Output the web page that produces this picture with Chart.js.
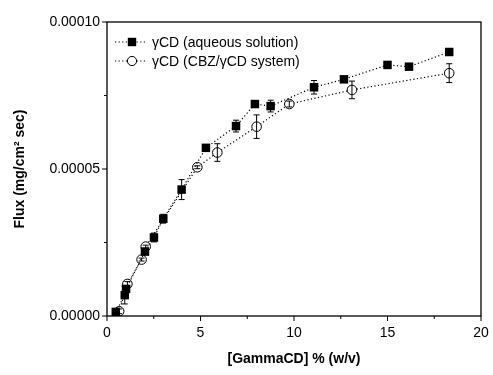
<!DOCTYPE html>
<html>
<head>
<meta charset="utf-8">
<script src="https://cdn.jsdelivr.net/npm/chart.js@4.4.0/dist/chart.umd.min.js"></script>
<style>
  html, body { margin: 0; padding: 0; background: #fff; }
  #wrap { width: 493px; height: 375px; }
</style>
</head>
<body>
<div id="wrap"><canvas id="fluxChart"></canvas></div>
<script>
// γCD (aqueous solution)
const aqConc = [0.47, 0.95, 1.02, 2.03, 2.51, 3.01, 3.99, 5.29, 6.9, 7.91, 8.75, 11.07, 12.67, 15.0, 16.15, 18.3];
const aqFlux = [0.0000014, 0.0000071, 0.0000092, 0.0000219, 0.0000267, 0.0000331, 0.0000430, 0.0000572, 0.0000646, 0.0000721, 0.0000714, 0.0000778, 0.0000805, 0.0000854, 0.0000848, 0.0000898];
const aqErr  = [0.0000005, 0.0000030, 0.0000010, 0.0000010, 0.0000015, 0.0000015, 0.0000034, 0.0000005, 0.0000020, 0.0000008, 0.0000020, 0.0000023, 0.0000010, 0.0000005, 0.0000005, 0.0000005];

// γCD (CBZ/γCD system)
const sysConc = [0.65, 1.09, 1.85, 2.07, 4.83, 5.9, 8.0, 9.75, 13.1, 18.3];
const sysFlux = [0.0000016, 0.0000109, 0.0000192, 0.0000236, 0.0000506, 0.0000556, 0.0000644, 0.0000721, 0.0000769, 0.0000826];
const sysErr  = [0.0000008, 0.0000008, 0.0000005, 0.0000005, 0.0000005, 0.0000030, 0.0000040, 0.0000010, 0.0000030, 0.0000032];

const xTicks = [0, 5, 10, 15, 20];
const yTicks = [0.00000, 0.00005, 0.00010];

const seriesLabels = ['γCD (aqueous solution)', 'γCD (CBZ/γCD system)'];

const FONT = 'Arial, "Liberation Sans", sans-serif';

function toPoints(xs, ys, es) {
    return xs.map((x, i) => ({ x: x, y: ys[i], err: es[i] }));
}

// error bars, frame, tick marks and legend
const extras = {
    id: 'extras',
    afterDatasetsDraw(chart) {
        const ctx = chart.ctx;
        const xs = chart.scales.x, ys = chart.scales.y;
        ctx.save();
        ctx.strokeStyle = '#000';
        ctx.lineWidth = 1;
        chart.data.datasets.forEach(ds => {
            ds.data.forEach(p => {
                if (!p.err) return;
                const px = xs.getPixelForValue(p.x);
                const top = ys.getPixelForValue(p.y + p.err);
                const bot = ys.getPixelForValue(p.y - p.err);
                ctx.beginPath();
                ctx.moveTo(px, top); ctx.lineTo(px, bot);
                ctx.moveTo(px - 3, top); ctx.lineTo(px + 3, top);
                ctx.moveTo(px - 3, bot); ctx.lineTo(px + 3, bot);
                ctx.stroke();
            });
        });
        ctx.restore();
    },
    afterDraw(chart) {
        const ctx = chart.ctx;
        const a = chart.chartArea;
        const xs = chart.scales.x, ys = chart.scales.y;
        ctx.save();
        ctx.strokeStyle = '#000';
        ctx.lineWidth = 1.3;
        ctx.strokeRect(a.left, a.top, a.right - a.left, a.bottom - a.top);

        // tick marks pointing outward, short ones for minor steps
        ctx.lineWidth = 1;
        ctx.beginPath();
        xs.ticks.forEach(t => {
            const px = xs.getPixelForValue(t.value);
            const len = xTicks.includes(t.value) ? 5 : 3;
            ctx.moveTo(px, a.bottom); ctx.lineTo(px, a.bottom + len);
        });
        ys.ticks.forEach(t => {
            const py = ys.getPixelForValue(t.value);
            const major = Math.round(t.value / 0.000025) % 2 === 0;
            ctx.moveTo(a.left, py); ctx.lineTo(a.left - (major ? 5 : 3), py);
        });
        ctx.stroke();

        // legend
        ctx.font = '14px ' + FONT;
        ctx.textBaseline = 'middle';
        ctx.fillStyle = '#000';
        chart.data.datasets.forEach((ds, i) => {
            const y = a.top + 20 + i * 19;
            const x0 = a.left + 8;
            ctx.setLineDash([1.2, 2.4]);
            ctx.lineWidth = 1.2;
            ctx.beginPath();
            ctx.moveTo(x0, y); ctx.lineTo(x0 + 32, y);
            ctx.stroke();
            ctx.setLineDash([]);
            const mx = x0 + 17;
            if (ds.pointStyle === 'rect') {
                ctx.fillStyle = '#000';
                ctx.fillRect(mx - 4.2, y - 4.2, 8.4, 8.4);
            } else {
                ctx.beginPath();
                ctx.arc(mx, y, 4.6, 0, Math.PI * 2);
                ctx.fillStyle = '#fff';
                ctx.fill();
                ctx.lineWidth = 1;
                ctx.stroke();
            }
            ctx.fillStyle = '#000';
            ctx.fillText(ds.label, x0 + 37, y + 1);
        });
        ctx.restore();
    }
};

new Chart(document.getElementById('fluxChart'), {
    type: 'scatter',
    data: {
        datasets: [{
            label: seriesLabels[0],
            data: toPoints(aqConc, aqFlux, aqErr),
            showLine: true,
            borderColor: '#000',
            borderWidth: 1.2,
            borderDash: [1.2, 2.4],
            pointStyle: 'rect',
            pointRadius: 6,
            pointBackgroundColor: '#000',
            pointBorderColor: '#000',
            pointBorderWidth: 0,
        }, {
            label: seriesLabels[1],
            data: toPoints(sysConc, sysFlux, sysErr),
            showLine: true,
            borderColor: '#000',
            borderWidth: 1.2,
            borderDash: [1.2, 2.4],
            pointStyle: 'circle',
            pointRadius: 4.8,
            pointBackgroundColor: '#fff',
            pointBorderColor: '#000',
            pointBorderWidth: 1,
        }]
    },
    options: {
        responsive: true,
        maintainAspectRatio: false,
        animation: false,
        events: [],
        layout: { padding: { top: 22, right: 12, left: 0, bottom: 0 } },
        plugins: {
            legend: { display: false },
            tooltip: { enabled: false },
        },
        scales: {
            x: {
                type: 'linear',
                min: 0,
                max: 20,
                afterFit: s => {
                    s.height = 59;
                    s.paddingLeft = 0;
                    s.paddingRight = 0;
                },
                grid: { display: false, drawTicks: false },
                border: { display: false },
                ticks: {
                    stepSize: 2.5,
                    padding: 9,
                    color: '#000',
                    font: { family: FONT, size: 14 },
                    maxRotation: 0,
                    callback: v => xTicks.includes(v) ? String(v) : '',
                },
                title: {
                    display: true,
                    text: '[GammaCD] % (w/v)',
                    color: '#000',
                    font: { family: FONT, size: 14, weight: 'bold' },
                    padding: { top: 0, bottom: 7 },
                },
            },
            y: {
                min: 0,
                max: 0.0001,
                afterFit: s => {
                    s.width = 107;
                    s.paddingTop = 0;
                    s.paddingBottom = 0;
                },
                grid: { display: false, drawTicks: false },
                border: { display: false },
                ticks: {
                    stepSize: 0.000025,
                    padding: 7,
                    color: '#000',
                    font: { family: FONT, size: 14 },
                    callback: v => {
                        const k = Math.round(v / 0.000025);
                        return k % 2 === 0 ? (k * 0.000025).toFixed(5) : '';
                    },
                },
                title: {
                    display: true,
                    text: 'Flux (mg/cm² sec)',
                    color: '#000',
                    font: { family: FONT, size: 14, weight: 'bold' },
                    padding: { top: 12, bottom: 0 },
                },
            }
        }
    },
    plugins: [extras]
});
</script>
</body>
</html>
